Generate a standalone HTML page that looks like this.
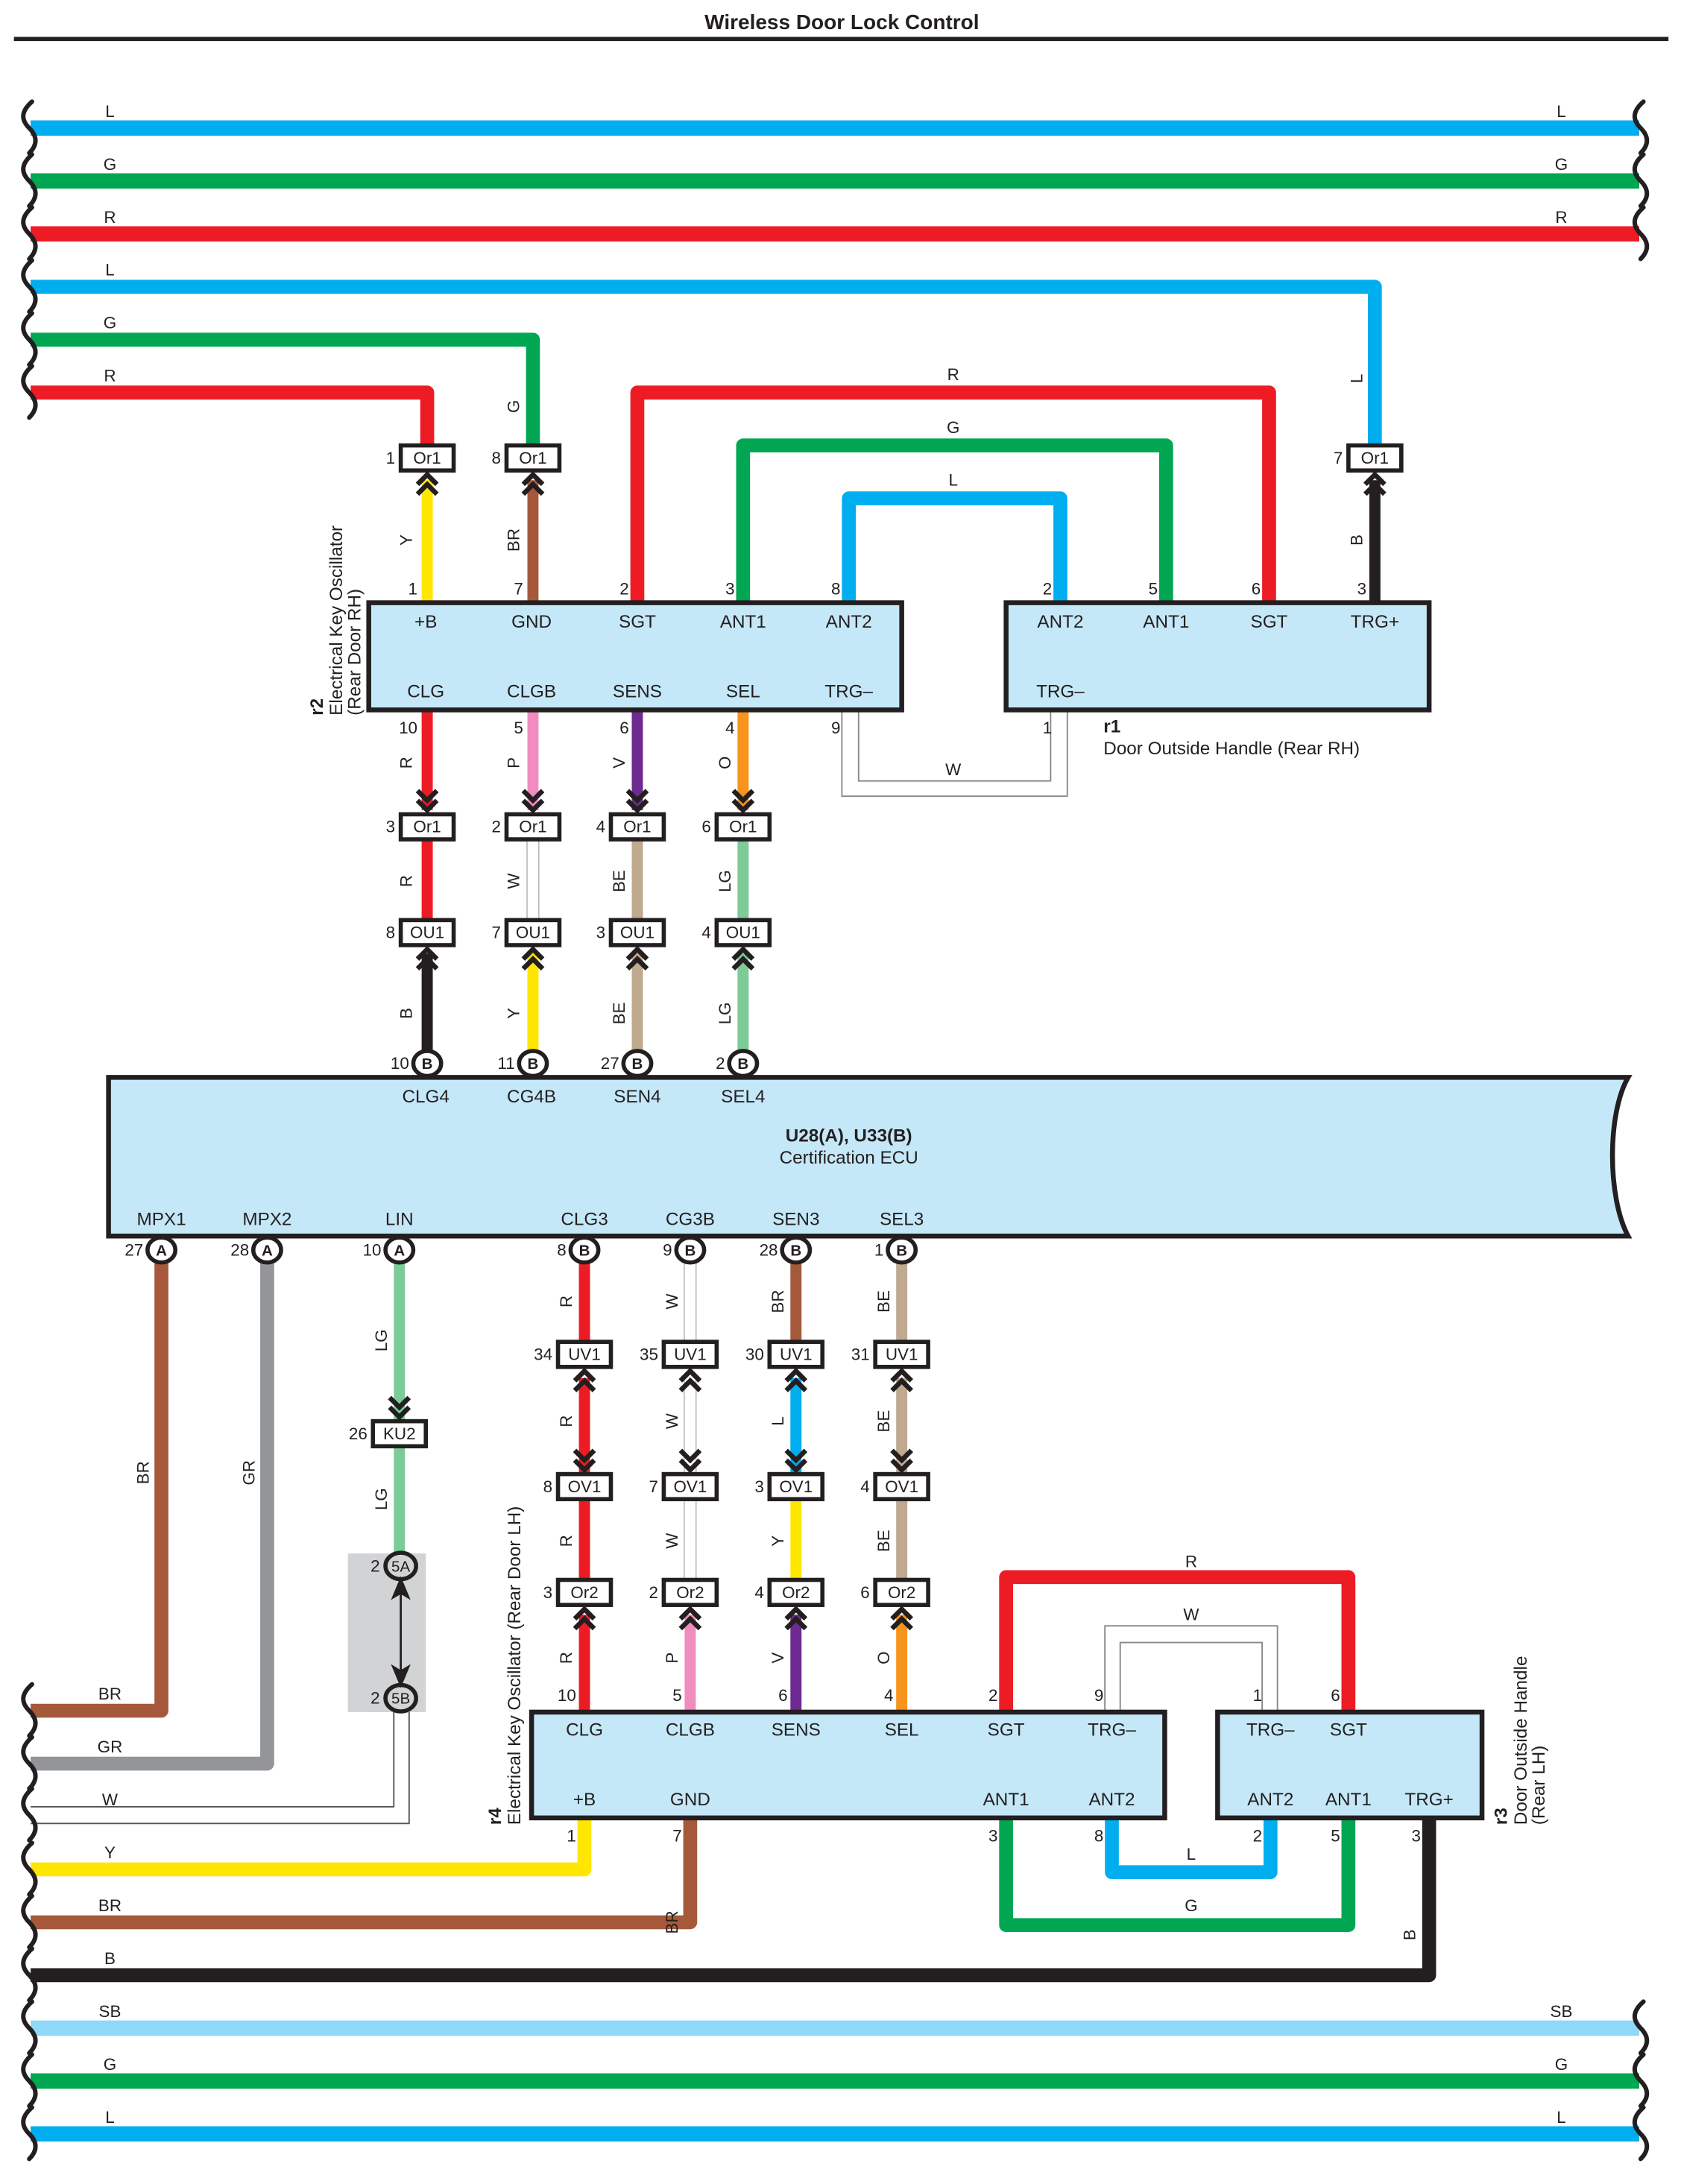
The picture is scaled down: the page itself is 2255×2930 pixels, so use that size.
<!DOCTYPE html>
<html><head><meta charset="utf-8"><style>
html,body{margin:0;padding:0;background:#fff}
svg{display:block}
text{font-family:"Liberation Sans",sans-serif;fill:#231f20}
</style></head><body>
<svg width="2255" height="2930" viewBox="0 0 1208 1569" preserveAspectRatio="none" xmlns="http://www.w3.org/2000/svg">
<defs>
<path id="cu" d="M-7,10 L0,3 L7,10 M-7,17 L0,10 L7,17" fill="none" stroke="#231f20" stroke-width="3.5"/>
<path id="cd" d="M-7,-10 L0,-3 L7,-10 M-7,-17 L0,-10 L7,-17" fill="none" stroke="#231f20" stroke-width="3.5"/>
<path id="wl" d="M1,-19 C-7,-12 -7,-6 -1,0 C5,6 5,12 -1,18" fill="none" stroke="#231f20" stroke-width="3.2" stroke-linecap="round"/>
</defs>
<rect width="1208" height="1569" fill="#fff"/>
<text x="605" y="21" font-size="15" font-weight="bold" text-anchor="middle">Wireless Door Lock Control</text>
<rect x="10" y="26.5" width="1189" height="3" fill="#231f20"/>

<g fill="none" stroke-linejoin="round" stroke-linecap="butt">
<path d="M22,92H1178" stroke="#00aeef" stroke-width="11"/>
<path d="M22,130H1178" stroke="#00a651" stroke-width="11"/>
<path d="M22,168H1178" stroke="#ed1c24" stroke-width="11"/>
<path d="M22,206H988V320" stroke="#00aeef" stroke-width="10"/>
<path d="M22,244H383V320" stroke="#00a651" stroke-width="10"/>
<path d="M22,282H307V320" stroke="#ed1c24" stroke-width="10"/>
<path d="M307,345V433" stroke="#ffe600" stroke-width="8"/>
<path d="M383,345V433" stroke="#a6593a" stroke-width="8"/>
<path d="M988,345V433" stroke="#231f20" stroke-width="8"/>
<path d="M458,433V282H912V433" stroke="#ed1c24" stroke-width="10"/>
<path d="M534,433V320H838V433" stroke="#00a651" stroke-width="10"/>
<path d="M610,433V358H762V433" stroke="#00aeef" stroke-width="10"/>
<path d="M605,510V572H767V510" stroke="#888" stroke-width="1"/>
<path d="M617,510V561H755V510" stroke="#888" stroke-width="1"/>
<path d="M307,510V582" stroke="#ed1c24" stroke-width="8"/>
<path d="M383,510V582" stroke="#f08cbe" stroke-width="8"/>
<path d="M458,510V582" stroke="#6d2a91" stroke-width="8"/>
<path d="M534,510V582" stroke="#f7941d" stroke-width="8"/>
<path d="M307,603V661" stroke="#ed1c24" stroke-width="8"/>
<path d="M383,603V661" stroke="#888" stroke-width="9"/><path d="M383,603V661" stroke="#fff" stroke-width="8"/>
<path d="M458,603V661" stroke="#bfa98f" stroke-width="8"/>
<path d="M534,603V661" stroke="#7dcb96" stroke-width="8"/>
<path d="M307,685V755" stroke="#231f20" stroke-width="8"/>
<path d="M383,685V755" stroke="#ffe600" stroke-width="8"/>
<path d="M458,685V755" stroke="#bfa98f" stroke-width="8"/>
<path d="M534,685V755" stroke="#7dcb96" stroke-width="8"/>
<path d="M116,907V1229H22" stroke="#a6593a" stroke-width="10"/>
<path d="M192,907V1267H22" stroke="#939598" stroke-width="10"/>
<path d="M287,907V1022" stroke="#7dcb96" stroke-width="8"/>
<path d="M287,1039V1116" stroke="#7dcb96" stroke-width="8"/>
<path d="M283,1229V1298H22" stroke="#555" stroke-width="1"/>
<path d="M294,1229V1310H22" stroke="#555" stroke-width="1"/>
<path d="M22,1343H420V1306" stroke="#ffe600" stroke-width="10"/>
<path d="M22,1381H496V1306" stroke="#a6593a" stroke-width="10"/>
<path d="M22,1419H1027V1306" stroke="#231f20" stroke-width="10"/>
<path d="M22,1457H1178" stroke="#8ed8f8" stroke-width="11"/>
<path d="M22,1495H1178" stroke="#00a651" stroke-width="11"/>
<path d="M22,1533H1178" stroke="#00aeef" stroke-width="11"/>
<path d="M420,907V964" stroke="#ed1c24" stroke-width="8"/>
<path d="M496,907V964" stroke="#888" stroke-width="9"/><path d="M496,907V964" stroke="#fff" stroke-width="8"/>
<path d="M572,907V964" stroke="#a6593a" stroke-width="8"/>
<path d="M648,907V964" stroke="#bfa98f" stroke-width="8"/>
<path d="M420,990V1058" stroke="#ed1c24" stroke-width="8"/>
<path d="M496,990V1058" stroke="#888" stroke-width="9"/><path d="M496,990V1058" stroke="#fff" stroke-width="8"/>
<path d="M572,990V1058" stroke="#00aeef" stroke-width="8"/>
<path d="M648,990V1058" stroke="#bfa98f" stroke-width="8"/>
<path d="M420,1077V1135" stroke="#ed1c24" stroke-width="8"/>
<path d="M496,1077V1135" stroke="#888" stroke-width="9"/><path d="M496,1077V1135" stroke="#fff" stroke-width="8"/>
<path d="M572,1077V1135" stroke="#ffe600" stroke-width="8"/>
<path d="M648,1077V1135" stroke="#bfa98f" stroke-width="8"/>
<path d="M420,1160V1230" stroke="#ed1c24" stroke-width="8"/>
<path d="M496,1160V1230" stroke="#f08cbe" stroke-width="8"/>
<path d="M572,1160V1230" stroke="#6d2a91" stroke-width="8"/>
<path d="M648,1160V1230" stroke="#f7941d" stroke-width="8"/>
<path d="M723,1230V1133H969V1230" stroke="#ed1c24" stroke-width="10"/>
<path d="M794,1230V1168H918V1230" stroke="#888" stroke-width="1"/>
<path d="M805,1230V1180H907V1230" stroke="#888" stroke-width="1"/>
<path d="M799,1306V1345H913V1306" stroke="#00aeef" stroke-width="10"/>
<path d="M723,1306V1383H969V1306" stroke="#00a651" stroke-width="10"/>
</g>

<g>
<use href="#wl" x="22" y="92"/><use href="#wl" x="22" y="130"/><use href="#wl" x="22" y="168"/>
<use href="#wl" x="22" y="206"/><use href="#wl" x="22" y="244"/><use href="#wl" x="22" y="282"/>
<use href="#wl" x="22" y="1229"/><use href="#wl" x="22" y="1267"/><use href="#wl" x="22" y="1304"/>
<use href="#wl" x="22" y="1343"/><use href="#wl" x="22" y="1381"/><use href="#wl" x="22" y="1419"/>
<use href="#wl" x="22" y="1457"/><use href="#wl" x="22" y="1495"/><use href="#wl" x="22" y="1533"/>
<use href="#wl" x="1180" y="92"/><use href="#wl" x="1180" y="130"/><use href="#wl" x="1180" y="168"/>
<use href="#wl" x="1180" y="1457"/><use href="#wl" x="1180" y="1495"/><use href="#wl" x="1180" y="1533"/>
</g>

<g font-size="12" text-anchor="middle">
<text x="79" y="84">L</text><text x="1122" y="84">L</text>
<text x="79" y="122">G</text><text x="1122" y="122">G</text>
<text x="79" y="160">R</text><text x="1122" y="160">R</text>
<text x="79" y="198">L</text><text x="79" y="236">G</text><text x="79" y="274">R</text>
<text x="685" y="273">R</text><text x="685" y="311">G</text><text x="685" y="349">L</text>
<text x="685" y="557">W</text>
<text x="79" y="1221">BR</text><text x="79" y="1259">GR</text><text x="79" y="1297">W</text>
<text x="79" y="1335">Y</text><text x="79" y="1373">BR</text><text x="79" y="1411">B</text>
<text x="79" y="1449">SB</text><text x="1122" y="1449">SB</text>
<text x="79" y="1487">G</text><text x="1122" y="1487">G</text>
<text x="79" y="1525">L</text><text x="1122" y="1525">L</text>
<text x="856" y="1126">R</text><text x="856" y="1164">W</text>
<text x="856" y="1336">L</text><text x="856" y="1373">G</text>
</g>

<g font-size="12" text-anchor="middle">
<text transform="translate(979,272) rotate(-90)">L</text>
<text transform="translate(373,292) rotate(-90)">G</text>
<text transform="translate(296,388) rotate(-90)">Y</text>
<text transform="translate(373,388) rotate(-90)">BR</text>
<text transform="translate(979,388) rotate(-90)">B</text>
<text transform="translate(296,548) rotate(-90)">R</text>
<text transform="translate(373,548) rotate(-90)">P</text>
<text transform="translate(449,548) rotate(-90)">V</text>
<text transform="translate(525,548) rotate(-90)">O</text>
<text transform="translate(296,633) rotate(-90)">R</text>
<text transform="translate(373,633) rotate(-90)">W</text>
<text transform="translate(449,633) rotate(-90)">BE</text>
<text transform="translate(525,633) rotate(-90)">LG</text>
<text transform="translate(296,728) rotate(-90)">B</text>
<text transform="translate(373,728) rotate(-90)">Y</text>
<text transform="translate(449,728) rotate(-90)">BE</text>
<text transform="translate(525,728) rotate(-90)">LG</text>
<text transform="translate(107,1058) rotate(-90)">BR</text>
<text transform="translate(183,1058) rotate(-90)">GR</text>
<text transform="translate(278,963) rotate(-90)">LG</text>
<text transform="translate(278,1077) rotate(-90)">LG</text>
<text transform="translate(411,935) rotate(-90)">R</text>
<text transform="translate(487,935) rotate(-90)">W</text>
<text transform="translate(563,935) rotate(-90)">BR</text>
<text transform="translate(639,935) rotate(-90)">BE</text>
<text transform="translate(411,1021) rotate(-90)">R</text>
<text transform="translate(487,1021) rotate(-90)">W</text>
<text transform="translate(563,1021) rotate(-90)">L</text>
<text transform="translate(639,1021) rotate(-90)">BE</text>
<text transform="translate(411,1107) rotate(-90)">R</text>
<text transform="translate(487,1107) rotate(-90)">W</text>
<text transform="translate(563,1107) rotate(-90)">Y</text>
<text transform="translate(639,1107) rotate(-90)">BE</text>
<text transform="translate(411,1191) rotate(-90)">R</text>
<text transform="translate(487,1191) rotate(-90)">P</text>
<text transform="translate(563,1191) rotate(-90)">V</text>
<text transform="translate(639,1191) rotate(-90)">O</text>
<text transform="translate(487,1381) rotate(-90)">BR</text>
<text transform="translate(1017,1390) rotate(-90)">B</text>
</g>

<g stroke="#231f20" stroke-width="3.5" fill="#c5e8f8">
<rect x="265" y="433" width="383" height="77"/>
<rect x="723" y="433" width="304" height="77"/>
<rect x="382" y="1230" width="455" height="76"/>
<rect x="875" y="1230" width="190" height="76"/>
<path d="M78,774H1170C1155,800 1155,860 1170,888H78Z"/>
</g>
<rect x="250" y="1116" width="56" height="114" fill="#d1d3d4"/>

<g font-size="13" text-anchor="middle">
<text x="306" y="451">+B</text><text x="382" y="451">GND</text><text x="458" y="451">SGT</text><text x="534" y="451">ANT1</text><text x="610" y="451">ANT2</text>
<text x="306" y="501">CLG</text><text x="382" y="501">CLGB</text><text x="458" y="501">SENS</text><text x="534" y="501">SEL</text><text x="610" y="501">TRG–</text>
<text x="762" y="451">ANT2</text><text x="838" y="451">ANT1</text><text x="912" y="451">SGT</text><text x="988" y="451">TRG+</text>
<text x="762" y="501">TRG–</text>
<text x="306" y="792">CLG4</text><text x="382" y="792">CG4B</text><text x="458" y="792">SEN4</text><text x="534" y="792">SEL4</text>
<text x="116" y="880">MPX1</text><text x="192" y="880">MPX2</text><text x="287" y="880">LIN</text>
<text x="420" y="880">CLG3</text><text x="496" y="880">CG3B</text><text x="572" y="880">SEN3</text><text x="648" y="880">SEL3</text>
<text x="610" y="820" font-weight="bold">U28(A), U33(B)</text>
<text x="610" y="836">Certification ECU</text>
<text x="420" y="1247">CLG</text><text x="496" y="1247">CLGB</text><text x="572" y="1247">SENS</text><text x="648" y="1247">SEL</text><text x="723" y="1247">SGT</text><text x="799" y="1247">TRG–</text>
<text x="420" y="1297">+B</text><text x="496" y="1297">GND</text><text x="723" y="1297">ANT1</text><text x="799" y="1297">ANT2</text>
<text x="913" y="1247">TRG–</text><text x="969" y="1247">SGT</text>
<text x="913" y="1297">ANT2</text><text x="969" y="1297">ANT1</text><text x="1027" y="1297">TRG+</text>
</g>
<g font-size="12" text-anchor="end">
<text x="300" y="427">1</text><text x="376" y="427">7</text><text x="452" y="427">2</text><text x="528" y="427">3</text><text x="604" y="427">8</text>
<text x="300" y="527">10</text><text x="376" y="527">5</text><text x="452" y="527">6</text><text x="528" y="527">4</text><text x="604" y="527">9</text>
<text x="756" y="427">2</text><text x="832" y="427">5</text><text x="906" y="427">6</text><text x="982" y="427">3</text>
<text x="756" y="527">1</text>
<text x="414" y="1222">10</text><text x="490" y="1222">5</text><text x="566" y="1222">6</text><text x="642" y="1222">4</text><text x="717" y="1222">2</text><text x="793" y="1222">9</text>
<text x="907" y="1222">1</text><text x="963" y="1222">6</text>
<text x="414" y="1323">1</text><text x="490" y="1323">7</text><text x="717" y="1323">3</text><text x="793" y="1323">8</text>
<text x="907" y="1323">2</text><text x="963" y="1323">5</text><text x="1021" y="1323">3</text>
</g>

<text x="793" y="526" font-size="13" font-weight="bold">r1</text>
<text x="793" y="542" font-size="13">Door Outside Handle (Rear RH)</text>
<g font-size="13">
<text transform="translate(232,514) rotate(-90)" font-weight="bold">r2</text>
<text transform="translate(246,514) rotate(-90)">Electrical Key Oscillator</text>
<text transform="translate(259,514) rotate(-90)">(Rear Door RH)</text>
<text transform="translate(360,1311) rotate(-90)" font-weight="bold">r4</text>
<text transform="translate(374,1311) rotate(-90)">Electrical Key Oscillator (Rear Door LH)</text>
<text transform="translate(1083,1311) rotate(-90)" font-weight="bold">r3</text>
<text transform="translate(1097,1311) rotate(-90)">Door Outside Handle</text>
<text transform="translate(1110,1311) rotate(-90)">(Rear LH)</text>
</g>

<g font-size="12">
<g stroke="#231f20" stroke-width="3" fill="#fff">
<rect x="288" y="320" width="38" height="18"/><rect x="364" y="320" width="38" height="18"/><rect x="969" y="320" width="38" height="18"/>
<rect x="288" y="585" width="38" height="18"/><rect x="364" y="585" width="38" height="18"/><rect x="439" y="585" width="38" height="18"/><rect x="515" y="585" width="38" height="18"/>
<rect x="288" y="661" width="38" height="18"/><rect x="364" y="661" width="38" height="18"/><rect x="439" y="661" width="38" height="18"/><rect x="515" y="661" width="38" height="18"/>
<rect x="268" y="1021" width="38" height="18"/>
<rect x="401" y="964" width="38" height="18"/><rect x="477" y="964" width="38" height="18"/><rect x="553" y="964" width="38" height="18"/><rect x="629" y="964" width="38" height="18"/>
<rect x="401" y="1059" width="38" height="18"/><rect x="477" y="1059" width="38" height="18"/><rect x="553" y="1059" width="38" height="18"/><rect x="629" y="1059" width="38" height="18"/>
<rect x="401" y="1135" width="38" height="18"/><rect x="477" y="1135" width="38" height="18"/><rect x="553" y="1135" width="38" height="18"/><rect x="629" y="1135" width="38" height="18"/>
<ellipse cx="307" cy="764" rx="10" ry="9"/><ellipse cx="383" cy="764" rx="10" ry="9"/><ellipse cx="458" cy="764" rx="10" ry="9"/><ellipse cx="534" cy="764" rx="10" ry="9"/>
<ellipse cx="116" cy="898" rx="10" ry="9"/><ellipse cx="192" cy="898" rx="10" ry="9"/><ellipse cx="287" cy="898" rx="10" ry="9"/>
<ellipse cx="420" cy="898" rx="10" ry="9"/><ellipse cx="496" cy="898" rx="10" ry="9"/><ellipse cx="572" cy="898" rx="10" ry="9"/><ellipse cx="648" cy="898" rx="10" ry="9"/>
<ellipse cx="288" cy="1125" rx="11" ry="9.5" fill="#d1d3d4"/><ellipse cx="288" cy="1220" rx="11" ry="9.5" fill="#d1d3d4"/>
</g>
<g text-anchor="middle">
<text x="307" y="333">Or1</text><text x="383" y="333">Or1</text><text x="988" y="333">Or1</text>
<text x="307" y="598">Or1</text><text x="383" y="598">Or1</text><text x="458" y="598">Or1</text><text x="534" y="598">Or1</text>
<text x="307" y="674">OU1</text><text x="383" y="674">OU1</text><text x="458" y="674">OU1</text><text x="534" y="674">OU1</text>
<text x="287" y="1034">KU2</text>
<text x="420" y="977">UV1</text><text x="496" y="977">UV1</text><text x="572" y="977">UV1</text><text x="648" y="977">UV1</text>
<text x="420" y="1072">OV1</text><text x="496" y="1072">OV1</text><text x="572" y="1072">OV1</text><text x="648" y="1072">OV1</text>
<text x="420" y="1148">Or2</text><text x="496" y="1148">Or2</text><text x="572" y="1148">Or2</text><text x="648" y="1148">Or2</text>
<text x="288" y="1129" font-size="11">5A</text><text x="288" y="1224" font-size="11">5B</text>
</g>
<g text-anchor="middle" font-size="11" font-weight="bold">
<text x="307" y="768">B</text><text x="383" y="768">B</text><text x="458" y="768">B</text><text x="534" y="768">B</text>
<text x="116" y="902">A</text><text x="192" y="902">A</text><text x="287" y="902">A</text>
<text x="420" y="902">B</text><text x="496" y="902">B</text><text x="572" y="902">B</text><text x="648" y="902">B</text>
</g>
<g text-anchor="end">
<text x="284" y="333">1</text><text x="360" y="333">8</text><text x="965" y="333">7</text>
<text x="284" y="598">3</text><text x="360" y="598">2</text><text x="435" y="598">4</text><text x="511" y="598">6</text>
<text x="284" y="674">8</text><text x="360" y="674">7</text><text x="435" y="674">3</text><text x="511" y="674">4</text>
<text x="294" y="768">10</text><text x="370" y="768">11</text><text x="445" y="768">27</text><text x="521" y="768">2</text>
<text x="103" y="902">27</text><text x="179" y="902">28</text><text x="274" y="902">10</text>
<text x="407" y="902">8</text><text x="483" y="902">9</text><text x="559" y="902">28</text><text x="635" y="902">1</text>
<text x="264" y="1034">26</text>
<text x="397" y="977">34</text><text x="473" y="977">35</text><text x="549" y="977">30</text><text x="625" y="977">31</text>
<text x="397" y="1072">8</text><text x="473" y="1072">7</text><text x="549" y="1072">3</text><text x="625" y="1072">4</text>
<text x="397" y="1148">3</text><text x="473" y="1148">2</text><text x="549" y="1148">4</text><text x="625" y="1148">6</text>
<text x="273" y="1129">2</text><text x="273" y="1224">2</text>
</g>
</g>

<path d="M288,1137V1208" stroke="#231f20" stroke-width="1.5"/>
<path d="M288,1135 L283,1147 L288,1144 L293,1147Z M288,1210 L283,1198 L288,1201 L293,1198Z" fill="#231f20" stroke="#231f20" stroke-width="2"/>

<g>
<use href="#cu" x="307" y="338"/><use href="#cu" x="383" y="338"/><use href="#cu" x="988" y="338"/>
<use href="#cd" x="307" y="585"/><use href="#cd" x="383" y="585"/><use href="#cd" x="458" y="585"/><use href="#cd" x="534" y="585"/>
<use href="#cu" x="307" y="679"/><use href="#cu" x="383" y="679"/><use href="#cu" x="458" y="679"/><use href="#cu" x="534" y="679"/>
<use href="#cd" x="287" y="1021"/>
<use href="#cu" x="420" y="982"/><use href="#cu" x="496" y="982"/><use href="#cu" x="572" y="982"/><use href="#cu" x="648" y="982"/>
<use href="#cd" x="420" y="1059"/><use href="#cd" x="496" y="1059"/><use href="#cd" x="572" y="1059"/><use href="#cd" x="648" y="1059"/>
<use href="#cu" x="420" y="1153"/><use href="#cu" x="496" y="1153"/><use href="#cu" x="572" y="1153"/><use href="#cu" x="648" y="1153"/>
</g>
</svg>
</body></html>
